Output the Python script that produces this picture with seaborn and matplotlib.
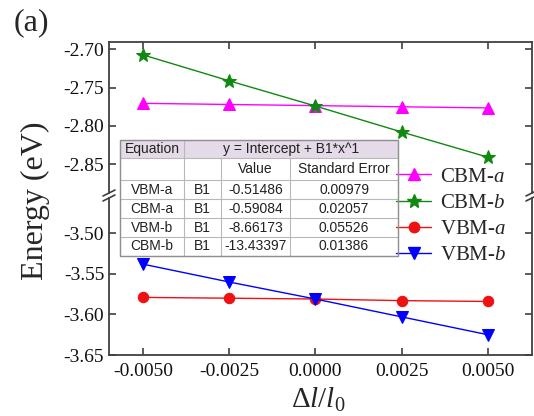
import numpy as np
import pandas as pd
import matplotlib
matplotlib.use("Agg")
import matplotlib.pyplot as plt
import seaborn as sns
from matplotlib.patches import Rectangle
from matplotlib.lines import Line2D

# ---------------- data ----------------
strain = [-0.005, -0.0025, 0.0, 0.0025, 0.005]
cbm_a = [-2.7705, -2.772, -2.7735, -2.775, -2.7765]
cbm_b = [-2.707, -2.741, -2.774, -2.808, -2.841]
vbm_a = [-3.579, -3.580, -3.581, -3.583, -3.584]
vbm_b = [-3.538, -3.560, -3.581, -3.603, -3.625]

series_names = ["CBM-$a$", "CBM-$b$", "VBM-$a$", "VBM-$b$"]
x_ticks = [-0.005, -0.0025, 0.0, 0.0025, 0.005]
x_tick_labels = ["-0.0050", "-0.0025", "0.0000", "0.0025", "0.0050"]
upper_ticks = [-2.85, -2.80, -2.75, -2.70]
upper_tick_labels = ["-2.85", "-2.80", "-2.75", "-2.70"]
lower_ticks = [-3.65, -3.60, -3.55, -3.50]
lower_tick_labels = ["-3.65", "-3.60", "-3.55", "-3.50"]

table_header = ["Equation", "y = Intercept + B1*x^1"]
table_cols = ["", "", "Value", "Standard Error"]
table_rows = ["VBM-a", "CBM-a", "VBM-b", "CBM-b"]
table_param = ["B1", "B1", "B1", "B1"]
table_value = ["-0.51486", "-0.59084", "-8.66173", "-13.43397"]
table_err = ["0.00979", "0.02057", "0.05526", "0.01386"]

# ---------------- style ----------------
sns.set_theme(style="white")
plt.rcParams["font.family"] = ["Liberation Serif", "DejaVu Serif"]
plt.rcParams["mathtext.fontset"] = "custom"
plt.rcParams["mathtext.rm"] = "Liberation Serif"
plt.rcParams["mathtext.it"] = "Liberation Serif:italic"
plt.rcParams["axes.unicode_minus"] = False

W, H = 534, 416
fig = plt.figure(figsize=(W / 100, H / 100), dpi=100)

def fx(px):
    return px / W

def fy(py):
    return 1 - py / H

left, right = 109, 532
up_top, up_bot = 42, 193
lo_top, lo_bot = 198, 355

ax_up = fig.add_axes([fx(left), fy(up_bot), fx(right - left), (up_bot - up_top) / H])
ax_lo = fig.add_axes([fx(left), fy(lo_bot), fx(right - left), (lo_bot - lo_top) / H])

df = pd.DataFrame({
    "x": strain * 4,
    "E": cbm_a + cbm_b + vbm_a + vbm_b,
    "series": sum([[n] * len(strain) for n in series_names], []),
})

styles = {
    "CBM-$a$": dict(color="#ff00ff", marker="^", ms=8, ax=ax_up),
    "CBM-$b$": dict(color="#118811", marker="*", ms=10, ax=ax_up),
    "VBM-$a$": dict(color="#ee1111", marker="o", ms=7.5, ax=ax_lo),
    "VBM-$b$": dict(color="#0000ff", marker="v", ms=8, ax=ax_lo),
}

handles = []
for name in series_names:
    st = styles[name]
    sub = df[df["series"] == name]
    sns.lineplot(data=sub, x="x", y="E", ax=st["ax"], color=st["color"],
                 marker=st["marker"], markersize=st["ms"], markeredgecolor=st["color"],
                 linewidth=1.0, legend=False)
    handles.append(Line2D([], [], color=st["color"], marker=st["marker"],
                          markersize=st["ms"], markeredgecolor=st["color"], linewidth=1.0))

spine_col = "#404040"
for ax in (ax_up, ax_lo):
    ax.set_xlim(-0.00598, 0.00628)
    ax.set_xticks(x_ticks)
    ax.set_xlabel("")
    ax.set_ylabel("")
    for s in ax.spines.values():
        s.set_color(spine_col)
        s.set_linewidth(1.3)
    ax.tick_params(direction="in", length=5, width=1.2, color=spine_col,
                   labelsize=14, labelcolor="#111111", left=True, right=True)
    ax.patch.set_alpha(0)

ax_up.set_ylim(-2.8879, -2.6902)
ax_up.set_yticks(upper_ticks)
ax_up.set_yticklabels(upper_tick_labels)
ax_up.spines["bottom"].set_visible(False)
ax_up.tick_params(axis="x", top=True, bottom=False, labelbottom=False)

ax_lo.set_ylim(-3.65, -3.4565)
ax_lo.set_yticks(lower_ticks)
ax_lo.set_yticklabels(lower_tick_labels)
ax_lo.spines["top"].set_visible(False)
ax_lo.tick_params(axis="x", top=False, bottom=True, labelbottom=True, pad=6)
ax_lo.set_xticklabels(x_tick_labels)

# break marks
for xs in (left, right):
    for yb in (up_bot, lo_top):
        fig.add_artist(Line2D([fx(xs - 6), fx(xs + 6)], [fy(yb + 3), fy(yb - 3)],
                              color=spine_col, lw=1.2))

# axis labels
fig.text(fx(35), fy(201), "Energy (eV)", rotation=90, ha="center", va="center", fontsize=23)
fig.text(fx(318), fy(400), r"$\Delta l/l_0$", ha="center", va="center", fontsize=21)
fig.text(fx(31), fy(23), "(a)", ha="center", va="center", fontsize=23)

# legend
fig.legend(handles, series_names, loc="upper left",
           bbox_to_anchor=(fx(396), fy(167)), frameon=False, fontsize=15,
           handlelength=1.7, handletextpad=0.4, labelspacing=0.32, borderpad=0,
           borderaxespad=0)

# table
col_x = [120, 184, 221, 290, 398]
row_y = [140, 158, 180, 199, 218, 237, 256]
tfont = dict(family=["Liberation Sans", "DejaVu Sans"], fontsize=10, color="#222222")

fig.add_artist(Rectangle((fx(col_x[0]), fy(row_y[-1])), fx(col_x[-1] - col_x[0]),
                         (row_y[-1] - row_y[0]) / H, facecolor="white", edgecolor="none",
                         transform=fig.transFigure, zorder=5))
fig.add_artist(Rectangle((fx(col_x[0]), fy(row_y[1])), fx(col_x[-1] - col_x[0]),
                         (row_y[1] - row_y[0]) / H, facecolor="#e4dae8", edgecolor="none",
                         transform=fig.transFigure, zorder=5))
gcol = "#b8b8b8"
for yy in row_y:
    fig.add_artist(Line2D([fx(col_x[0]), fx(col_x[-1])], [fy(yy), fy(yy)], color=gcol, lw=0.8, zorder=6))
for i, xx in enumerate(col_x):
    if i in (2, 3):
        y0 = row_y[1]
    else:
        y0 = row_y[0]
    fig.add_artist(Line2D([fx(xx), fx(xx)], [fy(y0), fy(row_y[-1])], color=gcol, lw=0.8, zorder=6))
fig.add_artist(Rectangle((fx(col_x[0]), fy(row_y[-1])), fx(col_x[-1] - col_x[0]),
                         (row_y[-1] - row_y[0]) / H, facecolor="none", edgecolor="#909090",
                         lw=1.0, transform=fig.transFigure, zorder=7))

def cell_text(c0, c1, r, s):
    xc = (col_x[c0] + col_x[c1]) / 2
    yc = (row_y[r] + row_y[r + 1]) / 2
    fig.text(fx(xc), fy(yc), s, ha="center", va="center", zorder=8, **tfont)

cell_text(0, 1, 0, table_header[0])
cell_text(1, 4, 0, table_header[1])
for j, s in enumerate(table_cols):
    if s:
        cell_text(j, j + 1, 1, s)
for i in range(len(table_rows)):
    cell_text(0, 1, 2 + i, table_rows[i])
    cell_text(1, 2, 2 + i, table_param[i])
    cell_text(2, 3, 2 + i, table_value[i])
    cell_text(3, 4, 2 + i, table_err[i])

fig.savefig("out.png", dpi=100)
